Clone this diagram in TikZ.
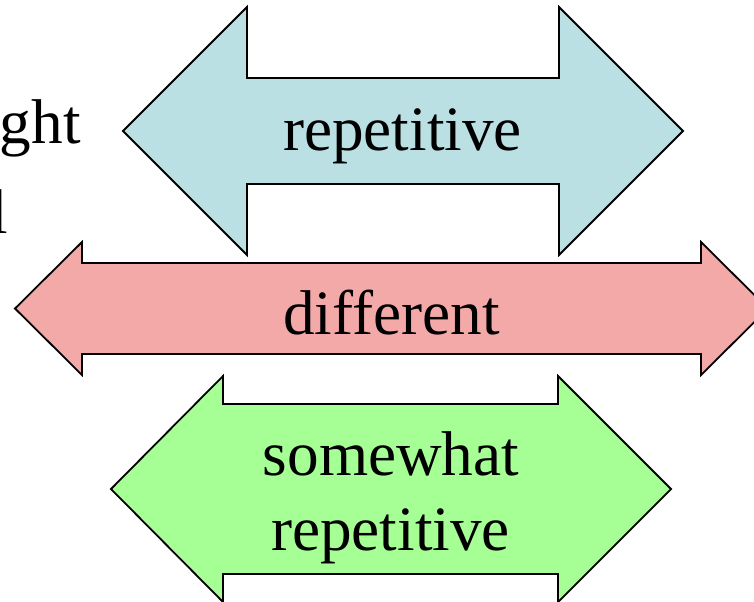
\documentclass[tikz,border=0pt]{standalone}
\usepackage{fontspec}
\setmainfont{Liberation Serif}
\definecolor{arrowblue}{RGB}{187,224,227}
\definecolor{arrowpink}{RGB}{244,169,169}
\definecolor{arrowgreen}{RGB}{165,255,148}
\begin{document}
\begin{tikzpicture}[x=0.5pt,y=-0.5pt,
  bigarrow/.style={draw=black,line width=0.9pt,line join=miter},
  label/.style={inner sep=0pt,anchor=base,font=\fontsize{31.6}{37.5}\selectfont},
  sidetext/.style={inner sep=0pt,anchor=base east,font=\fontsize{31.6}{37.5}\selectfont}]
\useasboundingbox (0,0) rectangle (754,601);
\clip (0,0) rectangle (754,601);

% text running in from the left
\node[sidetext] (left1) at (81,143) {ght};
\node[sidetext] (left2) at (8,233) {l};

% top double arrow
\draw[bigarrow,fill=arrowblue] (123,131) -- (247,7) -- (247,78) -- (559,78) -- (559,7)
  -- (683,131) -- (559,255) -- (559,184) -- (247,184) -- (247,255) -- cycle;
\node[label] (rep) at (402.5,150) {repetitive};

% middle double arrow
\draw[bigarrow,fill=arrowpink] (15,308.5) -- (82,242) -- (82,263) -- (701,263) -- (701,242)
  -- (768,308.5) -- (701,375) -- (701,354) -- (82,354) -- (82,375) -- cycle;
\node[label] (diff) at (391.5,334) {different};

% bottom double arrow
\draw[bigarrow,fill=arrowgreen] (111,489) -- (223,376) -- (223,404) -- (558,404) -- (558,376)
  -- (671,489) -- (558,602) -- (558,574) -- (223,574) -- (223,602) -- cycle;
\node[label] (some) at (391,475) {somewhat};
\node[label] (rep2) at (390.5,550) {repetitive};
\end{tikzpicture}
\end{document}
